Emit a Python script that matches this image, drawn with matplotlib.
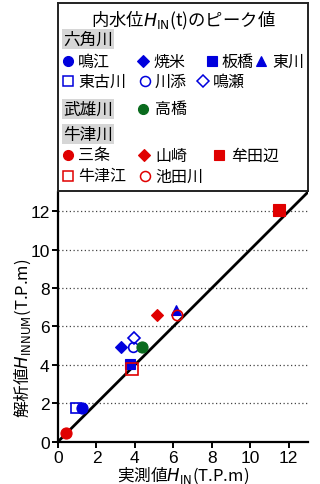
import matplotlib
matplotlib.use("Agg")
import matplotlib.pyplot as plt
from matplotlib.font_manager import FontProperties

plt.rcParams['font.family'] = ['Noto Sans CJK JP', 'DejaVu Sans']
plt.rcParams['mathtext.fontset'] = 'dejavusans'

# ---------------- data ----------------
rivers = ['六角川', '武雄川', '牛津川']
stations = ['東古川', '鳴江', '焼米', '板橋', '川添', '鳴瀬', '東川',
            '高橋',
            '三条', '山崎', '牟田辺', '牛津江', '池田川']
station_river = [0, 0, 0, 0, 0, 0, 0,
                 1,
                 2, 2, 2, 2, 2]
measured = [0.95, 1.25, 3.30, 3.75, 3.92, 3.95, 6.15,
            4.35,
            0.42, 5.15, 11.50, 3.85, 6.17]
computed = [1.76, 1.76, 4.92, 4.07, 4.92, 5.42, 6.88,
            4.92,
            0.44, 6.58, 12.05, 3.80, 6.58]
axis_ticks = [0, 2, 4, 6, 8, 10, 12]
axis_max = 13

# ---------------- styles ----------------
river_colors = ['#0000dd', '#0a6b1e', '#e00000']
style = {
    '鳴江': ('o', True, 8.0), '焼米': ('D', True, 6.0), '板橋': ('s', True, 7.5),
    '東川': ('^', True, 7.5), '東古川': ('s', False, 7.5), '川添': ('o', False, 7.0),
    '鳴瀬': ('D', False, 6.0), '高橋': ('o', True, 8.0),
    '三条': ('o', True, 8.0), '山崎': ('D', True, 6.0), '牟田辺': ('s', True, 9.0),
    '牛津江': ('s', False, 8.0), '池田川': ('o', False, 7.5),
}

W, H = 320, 485
fig = plt.figure(figsize=(W / 100, H / 100), dpi=100)

ax_l, ax_r, ax_t, ax_b = 58, 308, 193, 442.7
ax = fig.add_axes([ax_l / W, 1 - ax_b / H, (ax_r - ax_l) / W, (ax_b - ax_t) / H])

ax.set_xlim(0, axis_max)
ax.set_ylim(0, axis_max)
for s in ['top', 'right']:
    ax.spines[s].set_visible(False)
for s in ['left', 'bottom']:
    ax.spines[s].set_linewidth(1.6)

ax.set_yticks(axis_ticks)
ax.set_xticks(axis_ticks)
ax.yaxis.grid(True, linestyle=(0, (1, 2)), color='#444444', linewidth=0.9)
ax.set_axisbelow(True)

tick_font = FontProperties(family=['Liberation Sans', 'DejaVu Sans'], size=12.5)
ax.tick_params(direction='out', length=4, width=1.4, pad=2)
for lab in ax.get_xticklabels() + ax.get_yticklabels():
    lab.set_fontproperties(tick_font)

# 1:1 line
ax.plot([0, axis_max], [0, axis_max], color='black', lw=2.0, zorder=2)

for name, r, x, y in zip(stations, station_river, measured, computed):
    m, filled, ms = style[name]
    c = river_colors[r]
    ax.plot([x], [y], linestyle='none', marker=m, markersize=ms,
            markerfacecolor=c if filled else 'none', markeredgecolor=c,
            markeredgewidth=0.8 if filled else 1.2, zorder=3, clip_on=False)

ax.set_xlabel('実測値$\\mathit{H}_{\\mathrm{IN}}$(T.P.m)', fontsize=12, labelpad=-1)
ax.set_ylabel('解析値$\\mathit{H}_{\\mathrm{INNUM}}$(T.P.m)', fontsize=12)
ax.yaxis.set_label_coords(-0.10, 0.42)

# ---------------- legend box ----------------
lg_t, lg_b = 4, 192
lax = fig.add_axes([ax_l / W, 1 - lg_b / H, (ax_r - ax_l) / W, (lg_b - lg_t) / H])
lax.set_xlim(0, ax_r - ax_l)
lax.set_ylim(lg_b - lg_t, 0)
lax.set_xticks([])
lax.set_yticks([])
for s in lax.spines.values():
    s.set_linewidth(1.4)
    s.set_color('#222222')

lax.text(125, 16, '内水位$\\mathit{H}_{\\mathrm{IN}}$(t)のピーク値', ha='center', va='center', fontsize=12.5)

header_y = [36, 106, 131]
for r, yy in enumerate(header_y):
    lax.text(5, yy, rivers[r], ha='left', va='center', fontsize=12,
             bbox=dict(facecolor='#d6d6d6', edgecolor='none', pad=0.8))

legend_pos = {
    '鳴江': (9.7, 58, 20), '焼米': (85, 58, 95.5), '板橋': (154, 58, 164),
    '東川': (203, 58, 214),
    '東古川': (9.7, 78, 20), '川添': (87, 78, 97), '鳴瀬': (145, 78, 155),
    '高橋': (85, 106, 97),
    '三条': (9.7, 152, 20), '山崎': (86, 152, 97), '牟田辺': (161, 152, 173),
    '牛津江': (9.7, 173, 20), '池田川': (87, 173, 97),
}
for name, r in zip(stations, station_river):
    m, filled, ms = style[name]
    c = river_colors[r]
    mx, my, tx = legend_pos[name]
    lms = {'o': 7.2, 's': 7.2, 'D': 6.4, '^': 7.4}[m]
    lax.plot([mx], [my], linestyle='none', marker=m, markersize=lms,
             markerfacecolor=c if filled else 'none', markeredgecolor=c,
             markeredgewidth=0.8 if filled else 1.1)
    lax.text(tx, my, name, ha='left', va='center', fontsize=11.5)

fig.savefig('out.png', dpi=100)
